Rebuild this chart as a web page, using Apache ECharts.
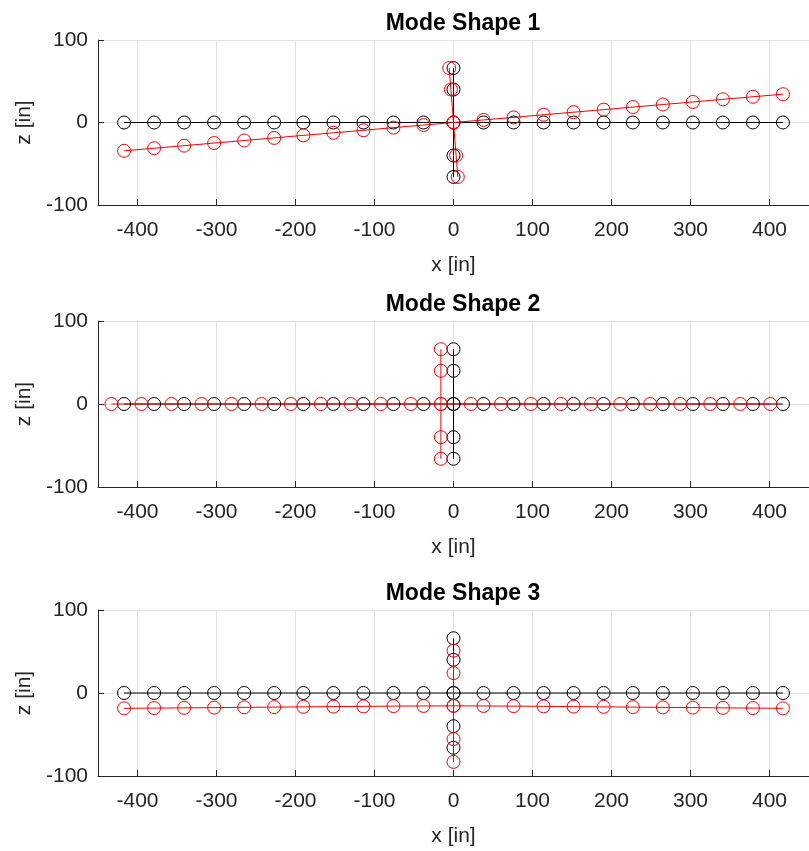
<!DOCTYPE html>
<html>
<head>
<meta charset="utf-8">
<script src="https://cdn.jsdelivr.net/npm/echarts@6/dist/echarts.min.js"></script>
<style>
  html, body { margin: 0; padding: 0; background: #fff; }
  #main { width: 809px; height: 851px; }
</style>
</head>
<body>
<div id="main"></div>
<script>
// undeformed structure (black)
var beamX = [-417, -379, -341, -303, -265, -227, -190, -152, -114, -76, -38, 0, 38, 76, 114, 152, 190, 227, 265, 303, 341, 379, 417];
var beamZ = [0, 0, 0, 0, 0, 0, 0, 0, 0, 0, 0, 0, 0, 0, 0, 0, 0, 0, 0, 0, 0, 0, 0];
var mastX = [0, 0, 0, 0, 0];
var mastZ = [66, 40, 0, -40, -66];

// mode shape 1 (red)
var mode1BeamX = [-417, -379, -341, -303, -265, -227, -190, -152, -114, -76, -38, 0, 38, 76, 114, 152, 190, 227, 265, 303, 341, 379, 417];
var mode1BeamZ = [-34.3, -31.2, -28.1, -24.9, -21.8, -18.7, -15.6, -12.5, -9.4, -6.2, -3.1, 0, 3.1, 6.2, 9.4, 12.5, 15.6, 18.7, 21.8, 24.9, 28.1, 31.2, 34.3];
var mode1MastX = [-5.4, -3.3, 0, 3.3, 5.4];
var mode1MastZ = [66, 40, 0, -40, -66];

// mode shape 2 (red)
var mode2BeamX = [-433, -395, -357, -319, -281, -243, -206, -168, -130, -92, -54, -16, 22, 60, 98, 136, 174, 211, 249, 287, 325, 363, 401];
var mode2BeamZ = [0, 0, 0, 0, 0, 0, 0, 0, 0, 0, 0, 0, 0, 0, 0, 0, 0, 0, 0, 0, 0, 0, 0];
var mode2MastX = [-16, -16, -16, -16, -16];
var mode2MastZ = [66, 40, 0, -40, -66];

// mode shape 3 (red)
var mode3BeamX = [-417, -379, -341, -303, -265, -227, -190, -152, -114, -76, -38, 0, 38, 76, 114, 152, 190, 227, 265, 303, 341, 379, 417];
var mode3BeamZ = [-18.5, -18.2, -17.9, -17.6, -17.3, -17.0, -16.7, -16.4, -16.1, -15.8, -15.6, -15.5, -15.6, -15.8, -16.1, -16.4, -16.7, -17.0, -17.3, -17.6, -17.9, -18.2, -18.5];
var mode3MastX = [0, 0, 0, 0, 0];
var mode3MastZ = [51, 24, -15.5, -55.5, -83];

var titles = ['Mode Shape 1', 'Mode Shape 2', 'Mode Shape 3'];
var xTicks = [-400, -300, -200, -100, 0, 100, 200, 300, 400];

var FONT = '"Liberation Sans", Arial, Helvetica, sans-serif';
var AXIS_COLOR = '#262626';
var GRID_COLOR = '#e3e3e3';

function pairs(xs, zs) {
    var out = [];
    for (var i = 0; i < xs.length; i++) {
        out.push([xs[i], zs[i]]);
    }
    return out;
}

var modes = [
    { beamX: mode1BeamX, beamZ: mode1BeamZ, mastX: mode1MastX, mastZ: mode1MastZ },
    { beamX: mode2BeamX, beamZ: mode2BeamZ, mastX: mode2MastX, mastZ: mode2MastZ },
    { beamX: mode3BeamX, beamZ: mode3BeamZ, mastX: mode3MastX, mastZ: mode3MastZ }
];

var gridTops = [40, 321, 610];
var gridHeights = [165, 166, 166];
var titleTops = [7, 288, 577];

var grids = [], xAxes = [], yAxes = [], series = [], titleList = [];

function lineSeries(data, color, gi) {
    return {
        type: 'line',
        xAxisIndex: gi,
        yAxisIndex: gi,
        data: data,
        symbol: 'circle',
        symbolSize: 13,
        showAllSymbol: true,
        itemStyle: { color: 'rgba(0,0,0,0)', borderColor: color, borderWidth: 1 },
        lineStyle: { color: color, width: 1 },
        emphasis: { disabled: true },
        silent: true
    };
}

for (var g = 0; g < 3; g++) {
    grids.push({ left: 98, top: gridTops[g], width: 720, height: gridHeights[g], containLabel: false });

    titleList.push({
        text: titles[g],
        left: 458,
        textAlign: 'center',
        top: titleTops[g],
        textStyle: { fontFamily: FONT, fontSize: 23, fontWeight: 'bold', color: '#000' }
    });

    xAxes.push({
        type: 'value',
        gridIndex: g,
        min: -450,
        max: 450,
        name: 'x [in]',
        nameLocation: 'middle',
        nameGap: 50,
        nameTextStyle: { fontFamily: FONT, fontSize: 21, color: AXIS_COLOR },
        axisLine: { onZero: false, lineStyle: { color: AXIS_COLOR, width: 1 } },
        axisTick: { inside: true, length: 6, customValues: xTicks, lineStyle: { color: AXIS_COLOR } },
        axisLabel: { customValues: xTicks, fontFamily: FONT, fontSize: 21, color: AXIS_COLOR, margin: 15 },
        splitLine: { show: true, lineStyle: { color: GRID_COLOR, width: 1 } }
    });

    yAxes.push({
        type: 'value',
        gridIndex: g,
        min: -100,
        max: 100,
        interval: 100,
        name: 'z [in]',
        nameLocation: 'middle',
        nameGap: 59,
        nameTextStyle: { fontFamily: FONT, fontSize: 21, color: AXIS_COLOR },
        axisLine: { show: true, onZero: false, lineStyle: { color: AXIS_COLOR, width: 1 } },
        axisTick: { show: true, inside: true, length: 6, lineStyle: { color: AXIS_COLOR } },
        axisLabel: { fontFamily: FONT, fontSize: 21, color: AXIS_COLOR, margin: 10 },
        splitLine: { show: true, lineStyle: { color: GRID_COLOR, width: 1 } }
    });

    // black = undeformed, red = mode shape
    series.push(lineSeries(pairs(beamX, beamZ), '#000000', g));
    series.push(lineSeries(pairs(mastX, mastZ), '#000000', g));
    series.push(lineSeries(pairs(modes[g].beamX, modes[g].beamZ), '#ff0000', g));
    series.push(lineSeries(pairs(modes[g].mastX, modes[g].mastZ), '#ff0000', g));
}

var myChart = echarts.init(document.getElementById('main'));
myChart.setOption({
    animation: false,
    backgroundColor: '#ffffff',
    title: titleList,
    grid: grids,
    xAxis: xAxes,
    yAxis: yAxes,
    series: series
});
</script>
</body>
</html>
